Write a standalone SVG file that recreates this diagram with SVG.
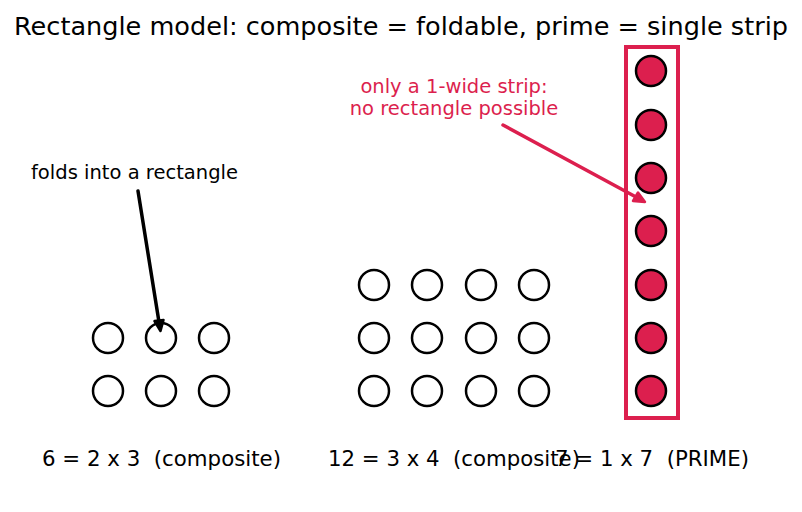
<svg xmlns="http://www.w3.org/2000/svg" width="802" height="512" viewBox="0 0 802 512">
<style>
text{font-family:"DejaVu Sans",sans-serif;white-space:pre;}
.t{font-size:25px;fill:#000;}
.l{font-size:20.5px;fill:#000;}
.n{font-size:19.5px;fill:#000;}
.r{font-size:19.5px;fill:#DC1F4E;}
.e{fill:#fff;stroke:#000;stroke-width:2.5;}
.p{fill:#DC1F4E;stroke:#000;stroke-width:2.5;}
</style>
<rect width="802" height="512" fill="#fff"/>
<text class="t" x="14" y="35" textLength="774" lengthAdjust="spacingAndGlyphs">Rectangle model: composite = foldable, prime = single strip</text>
<g id="grid6">
<circle class="e" cx="108" cy="338" r="15"/><circle class="e" cx="161" cy="338" r="15"/><circle class="e" cx="214" cy="338" r="15"/>
<circle class="e" cx="108" cy="391" r="15"/><circle class="e" cx="161" cy="391" r="15"/><circle class="e" cx="214" cy="391" r="15"/>
<text class="l" x="42" y="466" textLength="239" lengthAdjust="spacingAndGlyphs" xml:space="preserve">6 = 2 x 3  (composite)</text>
</g>
<g id="grid12">
<circle class="e" cx="374" cy="285" r="15"/><circle class="e" cx="427" cy="285" r="15"/><circle class="e" cx="481" cy="285" r="15"/><circle class="e" cx="534" cy="285" r="15"/>
<circle class="e" cx="374" cy="338" r="15"/><circle class="e" cx="427" cy="338" r="15"/><circle class="e" cx="481" cy="338" r="15"/><circle class="e" cx="534" cy="338" r="15"/>
<circle class="e" cx="374" cy="391" r="15"/><circle class="e" cx="427" cy="391" r="15"/><circle class="e" cx="481" cy="391" r="15"/><circle class="e" cx="534" cy="391" r="15"/>
<text class="l" x="328" y="466" textLength="252" lengthAdjust="spacingAndGlyphs" xml:space="preserve">12 = 3 x 4  (composite)</text>
</g>
<g id="strip7">
<rect x="626" y="47" width="52" height="371" fill="none" stroke="#DC1F4E" stroke-width="4"/>
<circle class="p" cx="651" cy="71" r="15"/><circle class="p" cx="651" cy="125" r="15"/><circle class="p" cx="651" cy="178" r="15"/><circle class="p" cx="651" cy="231" r="15"/>
<circle class="p" cx="651" cy="285" r="15"/><circle class="p" cx="651" cy="338" r="15"/><circle class="p" cx="651" cy="391" r="15"/>
<text class="l" x="555" y="466" textLength="194" lengthAdjust="spacingAndGlyphs" xml:space="preserve">7 = 1 x 7  (PRIME)</text>
</g>
<g id="note-fold">
<text class="n" x="31" y="179" textLength="207" lengthAdjust="spacingAndGlyphs">folds into a rectangle</text>
</g>
<g id="note-strip">
<text class="r" x="454" y="93" text-anchor="middle">only a 1-wide strip:</text>
<text class="r" x="454" y="115" text-anchor="middle">no rectangle possible</text>
</g>
<g id="connectors" stroke-linecap="round" stroke-linejoin="round">
<path d="M138 191 L159 322" fill="none" stroke="#000" stroke-width="3.5"/>
<path d="M154.5 321 L160.5 331 L163.5 320 Z" fill="#000" stroke="#000" stroke-width="2.5"/>
<path d="M503 125 L636 197" fill="none" stroke="#DC1F4E" stroke-width="3.5"/>
<path d="M633 201 L645 202 L638 192.5 Z" fill="#DC1F4E" stroke="#DC1F4E" stroke-width="2.5"/>
</g>
</svg>
